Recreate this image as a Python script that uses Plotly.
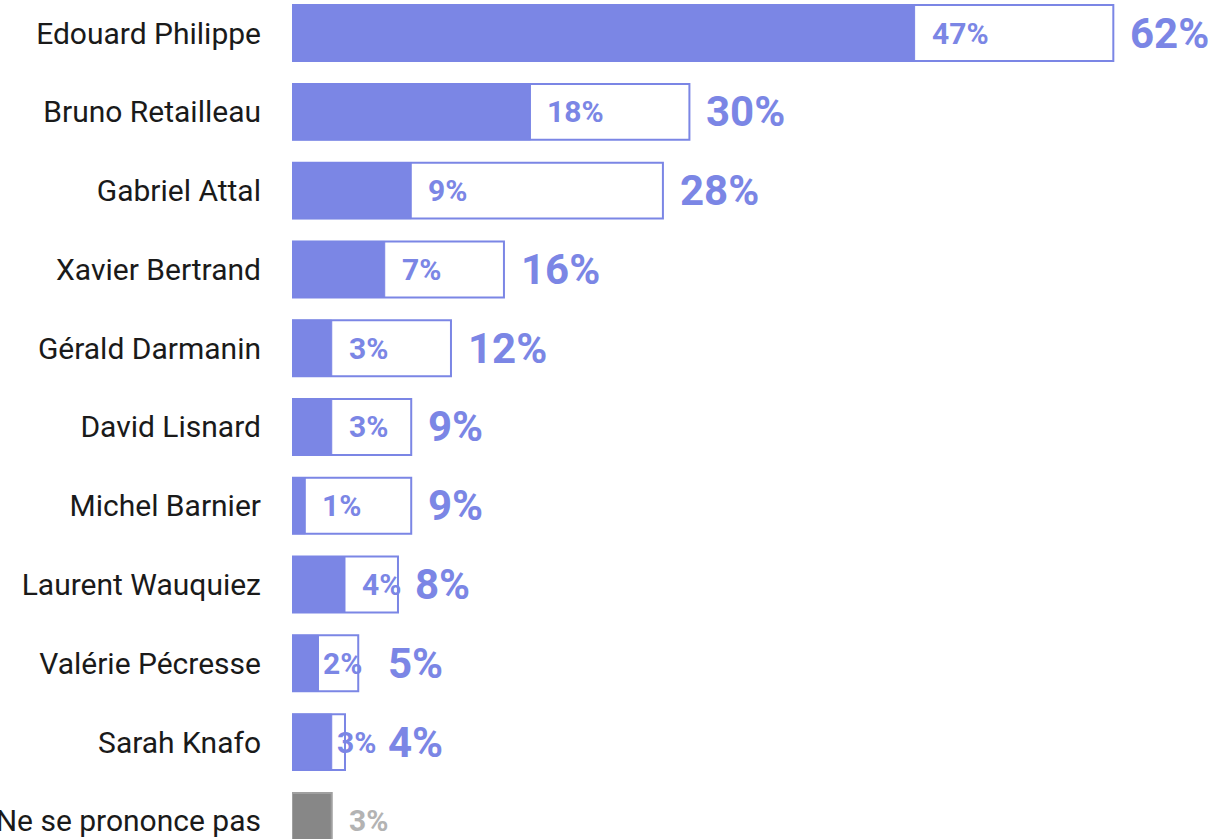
import plotly.graph_objects as go

# intentions de vote : 1er choix (barre pleine) et total (contour)
candidats = ["Edouard Philippe", "Bruno Retailleau", "Gabriel Attal", "Xavier Bertrand",
             "Gérald Darmanin", "David Lisnard", "Michel Barnier", "Laurent Wauquiez",
             "Valérie Pécresse", "Sarah Knafo"]
premier_choix = [47, 18, 9, 7, 3, 3, 1, 4, 2, 3]
total = [62, 30, 28, 16, 12, 9, 9, 8, 5, 4]
nsp_label = "Ne se prononce pas"
nsp_value = 3

categories = candidats + [nsp_label]

BLEU = "#7b86e5"
GRIS = "#878787"
GRIS_TXT = "#b3b3b3"
FONT = "Roboto"

fig = go.Figure()

# contour = total
fig.add_trace(go.Bar(
    y=candidats, x=total, orientation="h", width=0.71,
    marker=dict(color="white", line=dict(color=BLEU, width=2)),
    showlegend=False, hoverinfo="skip"
))
# barre pleine = premier choix
fig.add_trace(go.Bar(
    y=candidats, x=premier_choix, orientation="h", width=0.71,
    marker=dict(color=BLEU, line=dict(color=BLEU, width=1)),
    showlegend=False, hoverinfo="skip"
))
# ne se prononce pas
fig.add_trace(go.Bar(
    y=[nsp_label], x=[nsp_value], orientation="h", width=0.71,
    marker=dict(color=GRIS, line=dict(color="#a0a0a0", width=2)),
    showlegend=False, hoverinfo="skip"
))

for name, p, t in zip(candidats, premier_choix, total):
    # petit % dans la partie blanche (collé à la barre si peu de place)
    fig.add_annotation(x=p, y=name, text=f"{p}%", xanchor="left",
                       xshift=15 if t - p > 3 else 3,
                       showarrow=False, font=dict(family=FONT, size=30, color=BLEU, weight="bold"))
    # grand % total (décalé si la barre est trop courte)
    fig.add_annotation(x=max(t, 6), y=name, text=f"{t}%", xanchor="left", xshift=15,
                       showarrow=False, font=dict(family=FONT, size=42, color=BLEU, weight="bold"))

fig.add_annotation(x=nsp_value, y=nsp_label, text=f"{nsp_value}%", xanchor="left", xshift=15,
                   showarrow=False, font=dict(family=FONT, size=30, color=GRIS_TXT, weight="bold"))

fig.update_layout(
    barmode="overlay",
    width=1214, height=839,
    plot_bgcolor="white", paper_bgcolor="white",
    margin=dict(l=292, r=0, t=0, b=0),
    font=dict(family=FONT, color="#1a1a1a"),
    xaxis=dict(range=[0, 69.6], visible=False, fixedrange=True),
    yaxis=dict(
        categoryorder="array", categoryarray=categories,
        range=[10.23, -0.42],
        showgrid=False, zeroline=False, showline=False,
        ticks="outside", ticklen=24, tickcolor="white",
        tickfont=dict(family=FONT, size=30, color="#1a1a1a"),
        automargin=False,
    ),
)

fig.write_html("out.html", config={"displayModeBar": False},
               post_script="document.body.style.margin='0';")
